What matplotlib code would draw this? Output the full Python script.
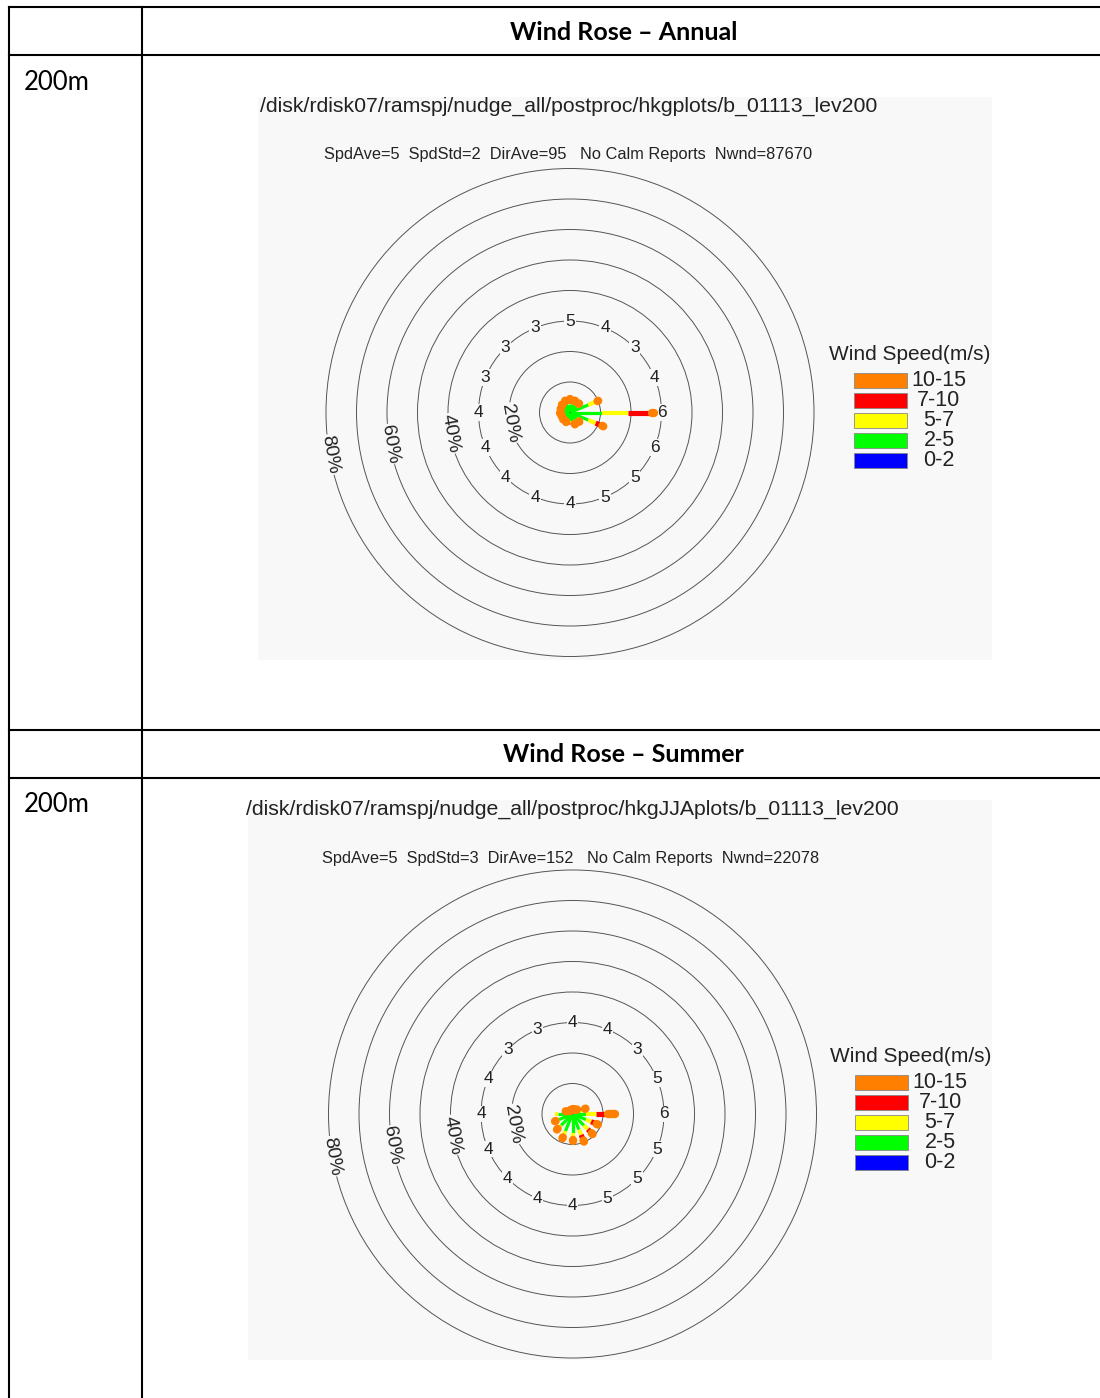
import numpy as np
import matplotlib.pyplot as plt
from matplotlib.patches import Rectangle, Circle

# directions clockwise from north
dirs = ['N', 'NNE', 'NE', 'ENE', 'E', 'ESE', 'SE', 'SSE',
        'S', 'SSW', 'SW', 'WSW', 'W', 'WNW', 'NW', 'NNW']
bins = ['0-2', '2-5', '5-7', '7-10', '10-15']
bin_colors = ['#0000ff', '#00ff00', '#ffff00', '#ff0000', '#ff8000']
bin_lw = [1.2, 2.3, 3.0, 3.7, 6.0]

# annual, frequency (%) per speed class
ann_02 = [0.3] * 16
ann_25 = [2.6, 2.6, 2.6, 6.2, 10.2, 6.2, 2.6, 2.6, 2.4, 2.2, 2.0, 2.0, 2.2, 2.2, 2.4, 2.6]
ann_57 = [0.8, 0.8, 0.8, 2.8, 8.5, 2.6, 0.8, 0.8, 0.7, 0.5, 0.5, 0.4, 0.4, 0.5, 0.6, 0.8]
ann_710 = [0.3, 0.3, 0.3, 0.5, 7.8, 2.4, 0.4, 0.3, 0.3, 0.2, 0.2, 0.2, 0.2, 0.2, 0.2, 0.3]
ann_1015 = [0.3, 0.2, 0.2, 0.2, 0.8, 0.3, 0.2, 0.2, 0.2, 0.2, 0.2, 0.1, 0.1, 0.1, 0.2, 0.2]
ann_spd = [5, 4, 3, 4, 6, 6, 5, 5, 4, 4, 4, 4, 4, 3, 3, 3]

# summer (JJA)
sum_02 = [0.2, 0.2, 0.2, 0.2, 0.3, 0.3, 0.3, 0.3, 0.3, 0.3, 0.3, 0.3, 0.3, 0.2, 0.2, 0.2]
sum_25 = [0.4, 0.8, 1.0, 2.5, 4.2, 4.5, 5.0, 5.3, 6.0, 5.8, 5.0, 4.5, 4.3, 1.5, 0.8, 0.5]
sum_57 = [0.2, 0.3, 0.4, 1.2, 3.3, 1.8, 1.8, 1.8, 1.5, 1.6, 1.2, 1.0, 1.0, 0.4, 0.2, 0.2]
sum_710 = [0.6, 0.3, 0.3, 0.5, 4.0, 2.0, 1.8, 2.0, 0.8, 0.6, 0.4, 0.2, 0.2, 0.2, 0.1, 0.5]
sum_1015 = [0.1, 0.1, 0.2, 0.2, 2.0, 0.4, 0.4, 0.4, 0.3, 0.3, 0.3, 0.2, 0.1, 0.1, 0.1, 0.1]
sum_spd = [4, 4, 3, 5, 6, 5, 5, 5, 4, 4, 4, 4, 4, 4, 3, 3]

rings = [10, 20, 30, 40, 50, 60, 70, 80]
pct_labels = [20, 40, 60, 80]

ann_title = '/disk/rdisk07/ramspj/nudge_all/postproc/hkgplots/b_01113_lev200'
ann_sub = 'SpdAve=5  SpdStd=2  DirAve=95   No Calm Reports  Nwnd=87670'
sum_title = '/disk/rdisk07/ramspj/nudge_all/postproc/hkgJJAplots/b_01113_lev200'
sum_sub = 'SpdAve=5  SpdStd=3  DirAve=152   No Calm Reports  Nwnd=22078'

BG = '#f8f8f8'
RF = 'Liberation Sans'
TF = 'Lato'
W, H = 1100, 1398

fig = plt.figure(figsize=(W / 100, H / 100), dpi=100)
tab = fig.add_axes([0, 0, 1, 1])
tab.set_xlim(0, W)
tab.set_ylim(H, 0)
tab.axis('off')

# table grid
for y in [7, 55, 730, 778]:
    tab.plot([9, W], [y, y], color='black', lw=1.5)
for x in [9, 142]:
    tab.plot([x, x], [7, H], color='black', lw=1.5)

tab.text(624, 32, 'Wind Rose \u2013 Annual', ha='center', va='center',
         fontsize=18, fontweight='bold', family=TF)
tab.text(623, 755, 'Wind Rose \u2013 Summer', ha='center', va='center',
         fontsize=18, fontweight='bold', family=TF)
tab.text(24, 82, '200m', ha='left', va='center', fontsize=18.5, family=TF)
tab.text(24, 804, '200m', ha='left', va='center', fontsize=18.5, family=TF)


def rose(box, center, freqs, spd, title, sub, tx, legx, legy):
    x0, y0, x1, y1 = box
    cx, cy = center
    s = 3.05  # pixels per percent
    tab.add_patch(Rectangle((x0, y0), x1 - x0, y1 - y0, fc=BG, ec='none'))
    ax = fig.add_axes([x0 / W, 1 - y1 / H, (x1 - x0) / W, (y1 - y0) / H])
    ax.set_xlim((x0 - cx) / s, (x1 - cx) / s)
    ax.set_ylim((cy - y1) / s, (cy - y0) / s)
    ax.axis('off')

    for r in rings:
        ax.add_patch(Circle((0, 0), r, fill=False, lw=0.7, ec='#555555'))

    ang = np.deg2rad(np.arange(16) * 22.5)
    cum = np.zeros(16)
    for k in range(5):
        lo = cum.copy()
        cum = cum + np.array(freqs[k])
        for i in range(16):
            ax.plot([lo[i] * np.sin(ang[i]), cum[i] * np.sin(ang[i])],
                    [lo[i] * np.cos(ang[i]), cum[i] * np.cos(ang[i])],
                    color=bin_colors[k], lw=bin_lw[k],
                    solid_capstyle='round' if k == 4 else 'butt', zorder=3 + k)

    for i in range(16):
        ax.text(30 * np.sin(ang[i]), 30 * np.cos(ang[i]), str(spd[i]),
                ha='center', va='center', fontsize=12.5, family=RF, color='#222222',
                bbox=dict(boxstyle='square,pad=0.05', fc=BG, ec='none'), zorder=2)

    a = np.deg2rad(190)
    for p in pct_labels:
        ax.text(p * np.cos(a), p * np.sin(a), f'{p}%', rotation=-80,
                rotation_mode='anchor', ha='center', va='center', fontsize=14,
                family=RF, color='#222222',
                bbox=dict(boxstyle='square,pad=0.05', fc=BG, ec='none'), zorder=2)

    tab.text(tx, y0 + 9, title, ha='center', va='center', fontsize=15.3,
             family=RF, color='#222222')
    tab.text(cx - 2, y0 + 58, sub, ha='center', va='center', fontsize=11.8,
             family=RF, color='#222222')

    # legend
    tab.text(legx + 56, legy, 'Wind Speed(m/s)', ha='center', va='center',
             fontsize=15, family=RF, color='#222222')
    for j, k in enumerate(range(4, -1, -1)):
        yy = legy + 25 + 20 * j
        tab.add_patch(Rectangle((legx, yy - 7.5), 53, 15, fc=bin_colors[k],
                                ec='#888888', lw=0.6))
        tab.text(legx + 85, yy, bins[k], ha='center', va='center',
                 fontsize=15.5, family=RF, color='#222222')


rose((258, 97, 992, 660), (570, 412.5),
     [ann_02, ann_25, ann_57, ann_710, ann_1015], ann_spd,
     ann_title, ann_sub, 569, 854, 355)
rose((248, 800, 992, 1360), (572.5, 1114),
     [sum_02, sum_25, sum_57, sum_710, sum_1015], sum_spd,
     sum_title, sum_sub, 572, 855, 1057)

fig.savefig('out.png', dpi=100)
